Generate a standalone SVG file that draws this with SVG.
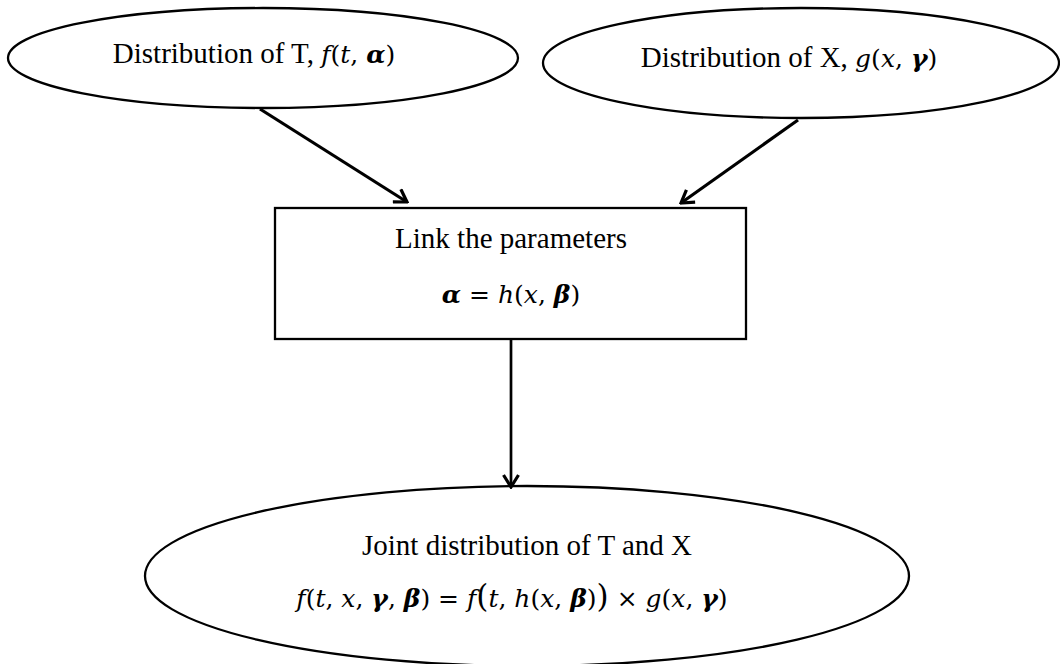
<svg xmlns="http://www.w3.org/2000/svg" width="1060" height="664" viewBox="0 0 1060 664">
<defs>
<style>
.shape{fill:#fff;stroke:#000;stroke-width:2.3}
.t{font-family:"Liberation Serif","Times New Roman",serif;font-size:29px;fill:#000}
.mx{font-family:"DejaVu Serif","Liberation Serif",serif;font-size:25px}
.i{font-style:italic}
.b{font-weight:bold}
.big{font-size:31px}
.conn{stroke:#000;stroke-width:3.2;fill:none}
</style>
<marker id="arr" markerWidth="18" markerHeight="18" refX="16" refY="9" orient="auto" markerUnits="userSpaceOnUse">
<path d="M4,1.5 L16,9 L4,16.5" fill="none" stroke="#000" stroke-width="3.2"/>
</marker>
</defs>
<rect width="1060" height="664" fill="#fff"/>
<g id="node-T">
<ellipse class="shape" cx="263" cy="58" rx="255" ry="50"/>
<text class="t" x="254" y="63" text-anchor="middle">Distribution of T, <tspan class="mx"><tspan class="i">f</tspan>(<tspan class="i">t</tspan>, <tspan class="i b">α</tspan>)</tspan></text>
</g>
<g id="node-X">
<ellipse class="shape" cx="801" cy="63" rx="258" ry="55"/>
<text class="t" x="789" y="67" text-anchor="middle">Distribution of X, <tspan class="mx"><tspan class="i">g</tspan>(<tspan class="i">x</tspan>, <tspan class="i b">γ</tspan>)</tspan></text>
</g>
<g id="node-link">
<rect class="shape" x="275" y="208" width="471" height="131"/>
<text class="t" x="511" y="248" text-anchor="middle">Link the parameters</text>
<text class="t mx" x="511" y="303" text-anchor="middle"><tspan class="i b">α</tspan> = <tspan class="i">h</tspan>(<tspan class="i">x</tspan>, <tspan class="i b">β</tspan>)</text>
</g>
<g id="node-joint">
<ellipse class="shape" cx="527" cy="576" rx="382" ry="90"/>
<text class="t" x="527" y="555" text-anchor="middle">Joint distribution of T and X</text>
<text class="t mx" x="512" y="607" text-anchor="middle"><tspan class="i">f</tspan>(<tspan class="i">t</tspan>, <tspan class="i">x</tspan>, <tspan class="i b">γ</tspan>, <tspan class="i b">β</tspan>) = <tspan class="i">f</tspan><tspan class="big">(</tspan><tspan class="i">t</tspan>, <tspan class="i">h</tspan>(<tspan class="i">x</tspan>, <tspan class="i b">β</tspan>)<tspan class="big">)</tspan> × <tspan class="i">g</tspan>(<tspan class="i">x</tspan>, <tspan class="i b">γ</tspan>)</text>
</g>
<g id="connectors">
<line class="conn" x1="260" y1="109" x2="407" y2="202" marker-end="url(#arr)"/>
<line class="conn" x1="798" y1="120" x2="681" y2="203" marker-end="url(#arr)"/>
<line class="conn" x1="511" y1="339" x2="511" y2="487" style="stroke-width:2.7" marker-end="url(#arr)"/>
</g>
</svg>
